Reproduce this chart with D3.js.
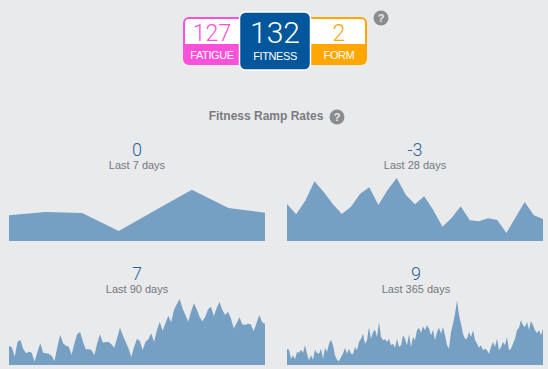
<!DOCTYPE html>
<html>
<head>
<meta charset="utf-8">
<script src="https://cdn.jsdelivr.net/npm/d3@7"></script>
<style>
html, body { margin: 0; padding: 0; background: #e9eaec; overflow: hidden; }
text { font-family: "Liberation Sans", sans-serif; }
</style>
</head>
<body>
<div id="vis"></div>
<script>
const width = 548
const height = 369

// chart values (heights above each baseline)
const days7 = [25.7, 29, 28, 10, 30.7, 51.3, 33, 28.3]
const days28 = [37, 26.7, 40.3, 59.7, 49.3, 37, 27, 34.3, 47.3, 53.7, 36, 51, 63, 46, 36.7, 44.7, 31, 14.3, 23, 34.7, 20.7, 19.7, 22.7, 21, 8, 23.7, 39, 25.7, 22]
const days90 = [19, 17.7, 8.3, 23.3, 25, 16, 11.7, 13.3, 12.3, 3.3, 13.3, 21.7, 12.3, 11.7, 11.3, 9, 4, 18.3, 30.3, 21.7, 19.3, 18.3, 10.3, 21.7, 31, 33, 23.3, 15.7, 15.7, 15, 9.7, 21.7, 30.7, 22.3, 23, 23, 20.7, 17.3, 26.7, 37.3, 29.7, 23.3, 16.7, 8.3, 18.3,
    26.3, 24, 15, 23.3, 25.7, 31.7, 23.3, 35, 43.3, 34.3, 41.7, 49.3, 42.7, 55, 61, 66, 56.7, 50, 43.3, 53.3, 61.7, 55.7, 48.3, 43.7, 48.3, 55.7, 58.3, 49, 56.7, 63, 55, 50, 53.3, 46.7, 36.7, 41.7, 47.7, 40.7, 40, 41.3, 40.7, 33.7, 41.7, 50, 42.7, 41]
const days365 = [16, 15.3, 6.3, 9.7, 5.7, 13, 12.3, 15.3, 12.3, 19.7, 11.3, 4.7, 9.7, 5.3, 15.3, 12, 11.3, 16.3, 6.3, 17.3, 13, 21.3, 25.3, 19.7, 9.7, 5.3, 3.7, 8, 11.3, 17.3, 11.3, 16.3, 11.3, 10.7, 18, 14.7, 23, 26.3, 31.3, 21.3, 24.7, 38, 26.3, 33, 35.3, 28, 43, 28, 24.7, 25.7, 23, 26.3, 19.7, 21.3, 17.3, 26.3, 18, 19.7, 29.7, 26.3, 19.7, 30.7, 18, 28, 24.7,
    34.7, 37.3, 32, 38.7, 34.7, 39.7, 36.3, 29.7, 35.3, 24.7, 33, 37.3, 31.3, 38, 29.7, 19.7, 16.3, 33, 41.3, 51.3, 64.7, 49.7, 41.3, 31.3, 26.3, 26.3, 33, 28, 34.7, 25.3, 21.3, 17.3, 19.7, 14.7, 16.3, 14.7, 11.3, 18, 23, 18, 26.3, 14.7, 18, 23, 19.7, 28, 14.7, 16.3, 21.3, 26.3, 34.7, 37.3, 44.7, 39.7, 38, 43, 35.3, 44, 39.7, 34.7, 32, 34.7, 29.7, 36.3]

const rampValues = ["0", "-3", "7", "9"]
const rampLabels = ["Last 7 days", "Last 28 days", "Last 90 days", "Last 365 days"]
const rampSeries = [days7, days28, days90, days365]

const boxValues = ["127", "132", "2"]
const boxLabels = ["FATIGUE", "FITNESS", "FORM"]

const svg = d3.select("#vis")
    .append("svg")
    .attr("width", width)
    .attr("height", height)
    .style("display", "block")

// top boxes, side ones first so the middle one sits over them
const boxes = [
    { i: 0, x: 183, w: 63, y: 17, h: 48, split: 44, color: "#fb50d9", num: 23, numY: 41, cx: 212, labelY: 59 },
    { i: 2, x: 305, w: 62, y: 17, h: 48, split: 44, color: "#ffa600", num: 23, numY: 41, cx: 339, labelY: 59 }
]

boxes.forEach(b => {
    svg.append("rect")
        .attr("x", b.x).attr("y", b.y)
        .attr("width", b.w).attr("height", b.h)
        .attr("rx", 6)
        .attr("fill", b.color)
    svg.append("path")
        .attr("fill", "#fff")
        .attr("d", `M${b.x + 2},${b.split} V${b.y + 6} Q${b.x + 2},${b.y + 2} ${b.x + 6},${b.y + 2} H${b.x + b.w - 6} Q${b.x + b.w - 2},${b.y + 2} ${b.x + b.w - 2},${b.y + 6} V${b.split} Z`)
    svg.append("text")
        .attr("x", b.cx).attr("y", b.numY)
        .attr("text-anchor", "middle")
        .attr("font-size", b.num)
        .attr("fill", b.color)
        .style("font-family", "Roboto")
        .style("font-weight", 300)
        .text(boxValues[b.i])
    svg.append("text")
        .attr("x", b.cx).attr("y", b.labelY)
        .attr("text-anchor", "middle")
        .attr("font-size", 11)
        .attr("letter-spacing", -0.4)
        .attr("fill", "#fff")
        .text(boxLabels[b.i])
})

svg.append("rect")
    .attr("x", 239.5).attr("y", 12)
    .attr("width", 71).attr("height", 58)
    .attr("rx", 6)
    .attr("fill", "#02569b")
    .attr("stroke", "#fff")
    .attr("stroke-width", 1.5)
svg.append("text")
    .attr("x", 275).attr("y", 43)
    .attr("text-anchor", "middle")
    .attr("font-size", 30)
    .attr("fill", "#fff")
    .style("font-family", "Roboto")
    .style("font-weight", 300)
    .text(boxValues[1])
svg.append("text")
    .attr("x", 275).attr("y", 60)
    .attr("text-anchor", "middle")
    .attr("font-size", 11)
    .attr("letter-spacing", -0.4)
    .attr("fill", "#fff")
    .text(boxLabels[1])

function helpIcon(cx, cy) {
    svg.append("circle")
        .attr("cx", cx).attr("cy", cy).attr("r", 7.5)
        .attr("fill", "#8c8c8c")
    svg.append("text")
        .attr("x", cx).attr("y", cy + 4)
        .attr("text-anchor", "middle")
        .attr("font-size", 11)
        .attr("font-weight", "bold")
        .attr("fill", "#e9eaec")
        .text("?")
}

helpIcon(381, 18)
helpIcon(337, 117)

svg.append("text")
    .attr("x", 266).attr("y", 120)
    .attr("text-anchor", "middle")
    .attr("font-size", 12)
    .attr("font-weight", "bold")
    .attr("fill", "#7b7b80")
    .text("Fitness Ramp Rates")

// ramp rate panels
const panels = [
    { left: 9, right: 265, base: 241, valueY: 156, labelY: 169, cx: 137 },
    { left: 287, right: 543, base: 241, valueY: 156, labelY: 169, cx: 415 },
    { left: 9, right: 265, base: 365, valueY: 280, labelY: 293, cx: 137 },
    { left: 287, right: 543, base: 365, valueY: 280, labelY: 293, cx: 416 }
]

panels.forEach((p, i) => {
    const values = rampSeries[i]

    const x = d3.scaleLinear()
        .domain([0, values.length - 1])
        .range([p.left, p.right])

    const y = d3.scaleLinear()
        .domain([0, 70])
        .range([p.base, p.base - 70])

    const area = d3.area()
        .x((d, j) => x(j))
        .y0(y(0))
        .y1(d => y(d))

    svg.append("path")
        .datum(values)
        .attr("fill", "#76a0c3")
        .attr("d", area)

    svg.append("text")
        .attr("x", p.cx).attr("y", p.valueY)
        .attr("text-anchor", "middle")
        .attr("font-size", 18)
        .attr("fill", "#2a639e")
        .style("font-family", "Roboto")
        .style("font-weight", 300)
        .text(rampValues[i])

    svg.append("text")
        .attr("x", p.cx).attr("y", p.labelY)
        .attr("text-anchor", "middle")
        .attr("font-size", 11)
        .attr("fill", "#757880")
        .text(rampLabels[i])
})
</script>
</body>
</html>
